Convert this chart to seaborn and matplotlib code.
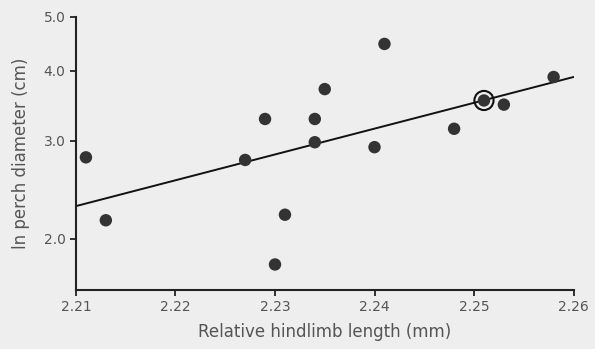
import numpy as np
import pandas as pd
import seaborn as sns
import matplotlib.pyplot as plt
from matplotlib.ticker import FixedLocator, FixedFormatter, NullLocator

# values
hindlimb = [2.211, 2.213, 2.227, 2.229, 2.230, 2.231, 2.234, 2.234, 2.235,
            2.241, 2.240, 2.248, 2.251, 2.253, 2.258]
perch = [2.80, 2.16, 2.77, 3.28, 1.80, 2.21, 3.28, 2.98, 3.71,
         4.47, 2.92, 3.15, 3.54, 3.48, 3.90]
highlight = 12  # the ringed point

trend_x = [2.21, 2.26]
trend_y = [2.29, 3.90]

x_ticks = [2.21, 2.22, 2.23, 2.24, 2.25, 2.26]
y_ticks = [2.0, 3.0, 4.0, 5.0]

df = pd.DataFrame({'hindlimb': hindlimb, 'perch': perch})

sns.set_style('ticks')
plt.rcParams['font.family'] = ['DejaVu Sans']
bg = '#eeeeee'
txt = '#555555'

fig, ax = plt.subplots(figsize=(5.95, 3.49), dpi=100)
fig.patch.set_facecolor(bg)
ax.set_facecolor(bg)
fig.subplots_adjust(left=0.1277, right=0.9639, bottom=0.169, top=0.952)

sns.lineplot(x=trend_x, y=trend_y, ax=ax, color='#111111', linewidth=1.4)
sns.scatterplot(data=df, x='hindlimb', y='perch', ax=ax, color='#333333',
                s=80, edgecolor='none', zorder=3)
ax.scatter([hindlimb[highlight]], [perch[highlight]], s=190, facecolor='none',
           edgecolor='#111111', linewidth=1.5, zorder=4)

ax.set_yscale('log')
ax.set_xlim(2.21, 2.26)
ax.set_ylim(1.62, 5.0)
ax.xaxis.set_major_locator(FixedLocator(x_ticks))
ax.set_xticklabels([f'{t:.2f}' for t in x_ticks])
ax.yaxis.set_major_locator(FixedLocator(y_ticks))
ax.yaxis.set_major_formatter(FixedFormatter([f'{t:.1f}' for t in y_ticks]))
ax.yaxis.set_minor_locator(NullLocator())

sns.despine(ax=ax)
for s in ['left', 'bottom']:
    ax.spines[s].set_color('#222222')
    ax.spines[s].set_linewidth(1.5)
ax.tick_params(axis='both', colors='#222222', labelcolor=txt, labelsize=10,
               length=4, width=1.3, direction='out')

ax.set_xlabel('Relative hindlimb length (mm)', fontsize=12, color=txt, labelpad=6)
ax.set_ylabel('ln perch diameter (cm)', fontsize=12, color=txt, labelpad=10)

plt.savefig('out.png', dpi=100, facecolor=bg)
